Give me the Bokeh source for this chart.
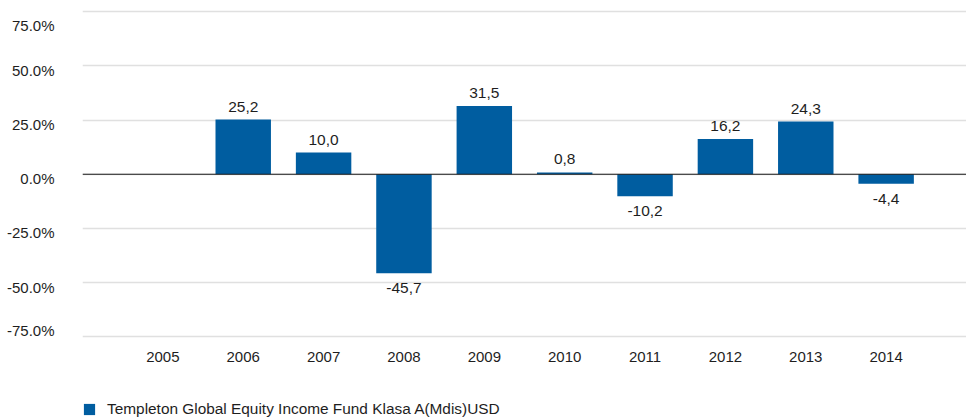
from bokeh.plotting import figure
from bokeh.models import (ColumnDataSource, LabelSet, Span, FixedTicker, Legend,
                          LegendItem, Range1d, FactorRange, CustomJSTickFormatter)
from bokeh.core.properties import value
from bokeh.embed import file_html
from bokeh.resources import INLINE

# ---- data ----
years = ["2005", "2006", "2007", "2008", "2009", "2010", "2011", "2012", "2013", "2014"]
returns = [None, 25.2, 10.0, -45.7, 31.5, 0.8, -10.2, 16.2, 24.3, -4.4]
y_ticks = [75, 50, 25, 0, -25, -50, -75]
y_tick_labels = ["75.0%", "50.0%", "25.0%", "0.0%", "-25.0%", "-50.0%", "-75.0%"]
series_name = "Templeton Global Equity Income Fund Klasa A(Mdis)USD"

# ---- styles ----
FONT = "Liberation Sans"
FS = "15px"
FS_VAL = "15.5px"
FS_LEG = "15.4px"
TXT = "#1e1e1e"
BAR = "#005DA0"
GRID = "#e0e0e0"
TOP_PAD = 5
Y0, Y1 = -113.1, 77.8
FRAME_H = 419 - TOP_PAD
# label shift below its gridline, in pixels (edge labels are kept inside the plot)
y_label_shift_px = [14, 4.5, 4.5, 4.5, 4.5, 4.5, -6]
px_per_unit = FRAME_H / (Y1 - Y0)
label_pos = [t - s / px_per_unit for t, s in zip(y_ticks, y_label_shift_px)]

bx = [y for y, v in zip(years, returns) if v is not None]
bv = [v for v in returns if v is not None]
bar_src = ColumnDataSource(dict(year=bx, value=bv))

pos_src = ColumnDataSource(dict(
    year=[y for y, v in zip(bx, bv) if v >= 0],
    value=[v for v in bv if v >= 0],
    text=[f"{v:.1f}".replace(".", ",") for v in bv if v >= 0]))
neg_src = ColumnDataSource(dict(
    year=[y for y, v in zip(bx, bv) if v < 0],
    value=[v for v in bv if v < 0],
    text=[f"{v:.1f}".replace(".", ",") for v in bv if v < 0]))
cat_src = ColumnDataSource(dict(year=years, y=[min(y_ticks)] * len(years)))

p = figure(width=966, height=419,
           x_range=FactorRange(*years, range_padding=0.1),
           y_range=Range1d(Y0, Y1),
           output_backend="svg", toolbar_location=None,
           min_border_top=TOP_PAD, min_border_bottom=0,
           min_border_left=82, min_border_right=0)
p.outline_line_color = None
p.background_fill_color = "white"

p.xgrid.grid_line_color = None
p.ygrid.ticker = FixedTicker(ticks=y_ticks)
p.ygrid.grid_line_color = GRID
p.ygrid.grid_line_width = 1.5

ya = p.yaxis[0]
ya.ticker = FixedTicker(ticks=label_pos)
ya.formatter = CustomJSTickFormatter(args=dict(grid_vals=y_ticks, grid_labels=y_tick_labels), code="""
let best = 0;
for (let i = 1; i < grid_vals.length; i++) {
  if (Math.abs(grid_vals[i] - tick) < Math.abs(grid_vals[best] - tick)) best = i;
}
return grid_labels[best];
""")
ya.axis_line_color = None
ya.major_tick_line_color = None
ya.minor_tick_line_color = None
ya.major_label_standoff = 22
ya.major_label_text_font = FONT
ya.major_label_text_font_size = FS
ya.major_label_text_color = TXT

p.xaxis.visible = False

bars = p.vbar(x="year", top="value", bottom=0, width=0.69, source=bar_src,
              fill_color=BAR, line_color=None)

p.add_layout(Span(location=0, dimension="width", line_color="#1a1a1a", line_width=1.1))

# category labels under the lowest gridline
p.add_layout(LabelSet(x="year", y="y", text="year", source=cat_src,
                      y_offset=-20.4, text_align="center", text_baseline="middle",
                      text_font=value(FONT), text_font_size=FS, text_color=TXT))

p.add_layout(LabelSet(x="year", y="value", text="text", source=pos_src,
                      y_offset=8, text_align="center", text_baseline="alphabetic",
                      text_font=value(FONT), text_font_size=FS_VAL, text_color=TXT))
p.add_layout(LabelSet(x="year", y="value", text="text", source=neg_src,
                      y_offset=-10, text_align="center", text_baseline="top",
                      text_font=value(FONT), text_font_size=FS_VAL, text_color=TXT))

legend = Legend(items=[LegendItem(label=series_name, renderers=[bars])],
                location=(0, 1), orientation="horizontal",
                glyph_width=14, glyph_height=14, label_height=14, label_standoff=11,
                padding=0, margin=0, border_line_color=None,
                background_fill_alpha=0,
                label_text_font=FONT, label_text_font_size=FS_LEG, label_text_color=TXT)
p.add_layout(legend)

open("out.html", "w").write(file_html(p, INLINE))
